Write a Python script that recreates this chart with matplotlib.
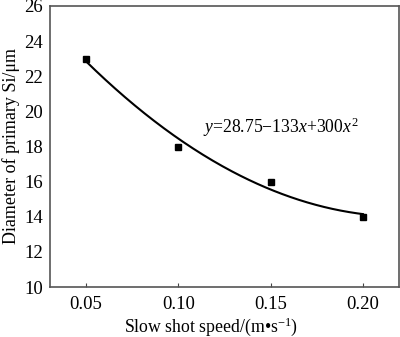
import numpy as np
import matplotlib
matplotlib.use("Agg")
import matplotlib.pyplot as plt

plt.rcParams['font.family'] = ['Liberation Serif', 'DejaVu Serif']
plt.rcParams['mathtext.fontset'] = 'custom'
plt.rcParams['mathtext.rm'] = 'Liberation Serif'
plt.rcParams['mathtext.it'] = 'Liberation Serif:italic'

speed = [0.05, 0.10, 0.15, 0.20]
diameter = [23.0, 18.0, 16.0, 14.0]
fit_coef = [28.75, -133.0, 300.0]  # y = a + b x + c x^2
xticks = [0.05, 0.10, 0.15, 0.20]
yticks = [10, 12, 14, 16, 18, 20, 22, 24, 26]

fig = plt.figure(figsize=(4.0, 3.37), dpi=100)
ax = fig.add_axes([50/400, 1-287/337, 349/400, 281/337])

xf = np.linspace(speed[0], speed[-1], 200)
yf = fit_coef[0] + fit_coef[1]*xf + fit_coef[2]*xf**2
ax.plot(xf, yf, color='black', lw=1.5)
ax.plot(speed, diameter, 's', color='black', ms=5)

ax.set_xlim(0.0305, 0.2195)
ax.set_ylim(10, 26)
ax.set_xticks(xticks)
ax.set_xticklabels(['%.2f' % v for v in xticks])
ax.set_yticks(yticks)
ax.tick_params(axis='x', direction='in', length=3, labelsize=13.5, pad=6.5, color='#444444')
ax.tick_params(axis='y', length=0, labelsize=13.5, pad=5)
for s in ax.spines.values():
    s.set_color('#555555')
    s.set_linewidth(1.2)

fig.text(211/400, 1-331.5/337, 'Slow shot speed/(m•s$^{-1}$)', fontsize=12.8,
         ha='center', va='baseline')
ax.set_ylabel('Diameter of primary Si/μm', fontsize=13, labelpad=3)

ax.text(0.1133, 19.1, r'$\mathit{y}$=28.75−133$\mathit{x}$+300$\mathit{x}^2$',
        fontsize=12.7, ha='left', va='center')

fig.savefig('out.png', dpi=100)
